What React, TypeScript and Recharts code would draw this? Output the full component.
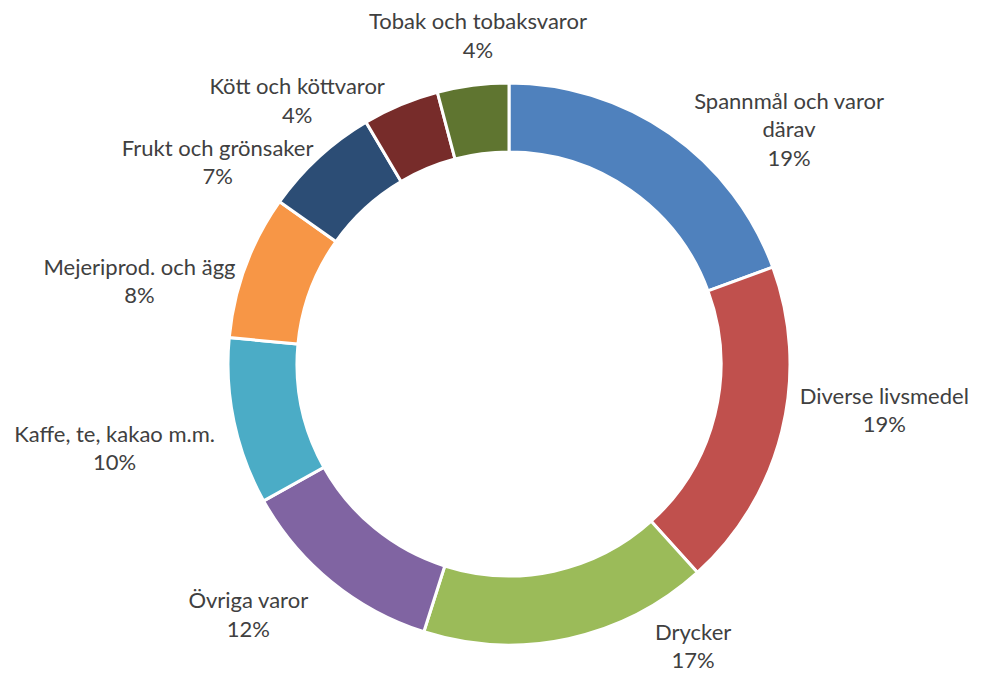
import { PieChart, Pie, Cell } from 'recharts'

const CATEGORIES = [
  'Spannmål och varor\ndärav',
  'Diverse livsmedel',
  'Drycker',
  'Övriga varor',
  'Kaffe, te, kakao m.m.',
  'Mejeriprod. och ägg',
  'Frukt och grönsaker',
  'Kött och köttvaror',
  'Tobak och tobaksvaror',
]

const SHARES = [19.4, 18.9, 16.6, 12.0, 9.6, 8.3, 6.7, 4.4, 4.1]

const COLORS = ['#4F81BD', '#C0504D', '#9BBB59', '#8064A2', '#4BACC6', '#F79646', '#2C4D75', '#772C2A', '#5F7530']

// label placement, excel style: shift from slice mid angle (deg, clockwise) and distance from centre
const LABEL_SHIFT = [15, -7, -21, 7, 0, -7.5, -12.5, -16, 2]
const LABEL_DIST = [366, 378, 336, 361, 403, 379, 355, 339, 331]

const data = CATEGORIES.map((name, i) => ({ name, value: SHARES[i] }))

const LINE_H = 28.5

function renderLabel(props: any) {
  const { cx, cy, midAngle, index, value, name } = props
  const theta = ((90 - midAngle + LABEL_SHIFT[index]) * Math.PI) / 180
  const r = LABEL_DIST[index]
  const x = cx + r * Math.sin(theta)
  const y = cy - r * Math.cos(theta)
  const lines = [...String(name).split('\n'), `${Math.round(value)}%`]
  const top = y - ((lines.length - 1) * LINE_H) / 2
  return (
    <text
      x={x}
      y={top}
      textAnchor="middle"
      dominantBaseline="central"
      fill="#404040"
      fontSize={22}
      fontFamily="Lato, 'Open Sans', sans-serif"
    >
      {lines.map((l, i) => (
        <tspan key={i} x={x} y={top + i * LINE_H}>
          {l}
        </tspan>
      ))}
    </text>
  )
}

export default function App() {
  return (
    <div style={{ width: 989, height: 673, background: '#fff' }}>
      <style>{'body{margin:0}'}</style>
      <PieChart width={989} height={673} margin={{ top: 0, right: 0, bottom: 0, left: 0 }}>
        <Pie
          data={data}
          dataKey="value"
          nameKey="name"
          cx={509}
          cy={364}
          innerRadius={212}
          outerRadius={281}
          startAngle={90}
          endAngle={-270}
          stroke="#fff"
          strokeWidth={3}
          label={renderLabel}
          labelLine={false}
          isAnimationActive={false}
        >
          {data.map((d, i) => (
            <Cell key={d.name} fill={COLORS[i]} />
          ))}
        </Pie>
      </PieChart>
    </div>
  )
}
